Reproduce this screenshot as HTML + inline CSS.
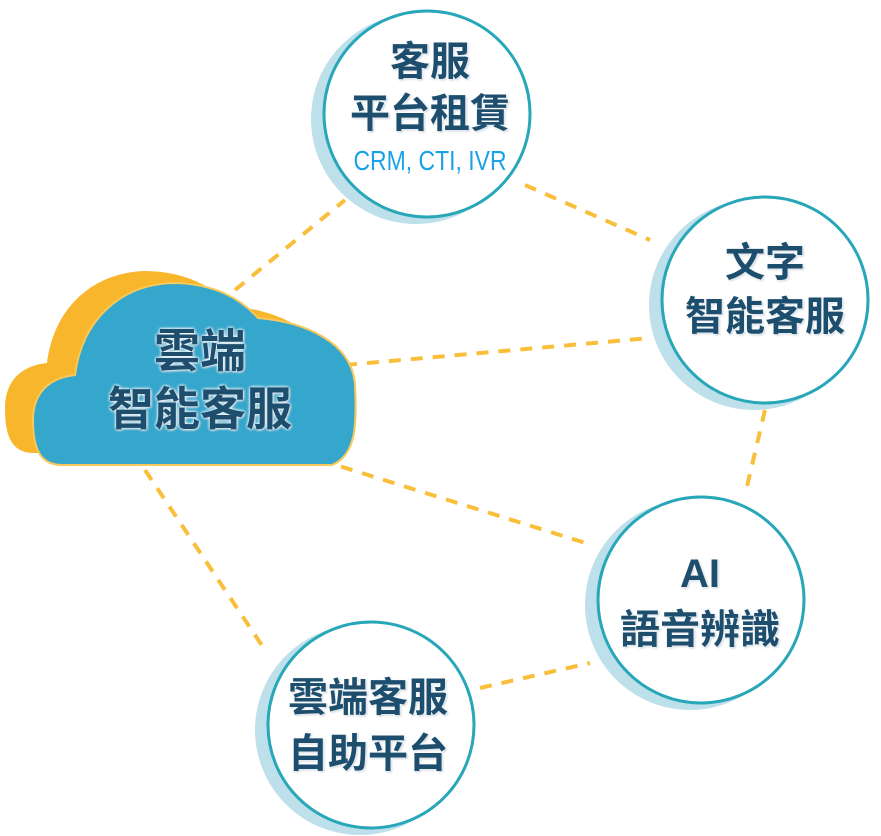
<!DOCTYPE html>
<html><head><meta charset="utf-8"><style>
body{margin:0;width:881px;height:836px;background:#fff;overflow:hidden;position:relative}
svg{position:absolute;left:0;top:0}
.t{position:absolute;text-align:center;font-family:"Liberation Sans","Noto Sans CJK TC",sans-serif;font-weight:bold;color:#1d4e6e;text-shadow:0 0 3px #fff,0 0 3px #fff,1px 1px 2px #9ab;line-height:1.2}
</style></head><body>
<svg width="881" height="836">
<g stroke="#F9BE3A" stroke-width="4" stroke-dasharray="12 10" fill="none">
<line x1="235" y1="290" x2="345" y2="200"/>
<line x1="345" y1="365" x2="650" y2="338"/>
<line x1="320" y1="460" x2="592" y2="545"/>
<line x1="145" y1="470" x2="265" y2="650"/>
<line x1="525" y1="185" x2="650" y2="240"/>
<line x1="765" y1="410" x2="745" y2="495"/>
<line x1="480" y1="688" x2="590" y2="663"/>
</g>
<defs><path id="cl" d="M62,465 C38,465 33,445 33,420 C33,395 47,378 75,375 C82,320 120,285 172,283 C215,283 242,300 258,318 C305,322 352,342 355,385 C357,425 356,455 332,465 Z"/></defs>
<use href="#cl" fill="#F7B62C" transform="translate(-28,-12)"/>
<use href="#cl" fill="#35A6CC" stroke="#F7C85A" stroke-width="2"/>
<g>
<circle cx="416" cy="119" r="105" fill="#BEE0EA"/><circle cx="427" cy="114" r="103" fill="#fff" stroke="#27A7B8" stroke-width="3"/>
<circle cx="754" cy="305" r="105" fill="#BEE0EA"/><circle cx="765" cy="300" r="103" fill="#fff" stroke="#27A7B8" stroke-width="3"/>
<circle cx="690" cy="605" r="105" fill="#BEE0EA"/><circle cx="701" cy="600" r="103" fill="#fff" stroke="#27A7B8" stroke-width="3"/>
<circle cx="360" cy="730" r="105" fill="#BEE0EA"/><circle cx="371" cy="725" r="103" fill="#fff" stroke="#27A7B8" stroke-width="3"/>
</g>
</svg>
<div class="t" style="left:55px;top:322px;width:290px;font-size:46px;line-height:58px">雲端<br>智能客服</div>
<div class="t" style="left:330px;top:36px;width:200px;font-size:40px;line-height:52px">客服<br>平台租賃</div>
<div class="t" style="left:330px;top:144px;width:200px;font-size:28px;font-weight:normal;color:#1aa2e6;text-shadow:none;transform:scaleX(0.82)">CRM, CTI, IVR</div>
<div class="t" style="left:665px;top:236px;width:200px;font-size:40px;line-height:54px">文字<br>智能客服</div>
<div class="t" style="left:600px;top:546px;width:200px;font-size:40px;line-height:56px">AI<br>語音辨識</div>
<div class="t" style="left:268px;top:670px;width:200px;font-size:40px;line-height:56px">雲端客服<br>自助平台</div>
</body></html>
